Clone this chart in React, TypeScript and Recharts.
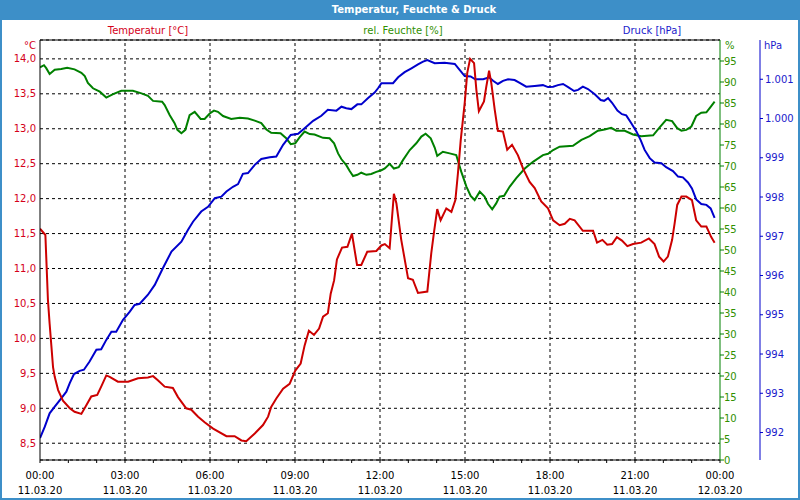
import React from "react";
import {
  LineChart,
  Line,
  XAxis,
  YAxis,
  CartesianGrid,
  ReferenceLine,
} from "recharts";

const temperature: [number, number][] = [
  [0.0, 11.57], [0.19, 11.48], [0.22, 11.17], [0.28, 10.55], [0.34, 10.21],
  [0.4, 9.9], [0.46, 9.59], [0.52, 9.45], [0.64, 9.26], [0.81, 9.11],
  [1.05, 9.0], [1.22, 8.95], [1.46, 8.92], [1.63, 9.04], [1.81, 9.17],
  [2.02, 9.19], [2.16, 9.31], [2.34, 9.47], [2.46, 9.45], [2.75, 9.38],
  [3.11, 9.38], [3.46, 9.43], [3.81, 9.44], [3.99, 9.46], [4.16, 9.4],
  [4.4, 9.31], [4.69, 9.29], [4.87, 9.16], [5.16, 9.0], [5.34, 8.98],
  [5.58, 8.88], [5.81, 8.8], [6.11, 8.71], [6.58, 8.6], [6.87, 8.6],
  [7.11, 8.54], [7.28, 8.53], [7.58, 8.64], [7.87, 8.76], [8.05, 8.88],
  [8.16, 9.02], [8.34, 9.14], [8.58, 9.28], [8.81, 9.35], [9.01, 9.54],
  [9.2, 9.64], [9.34, 9.9], [9.49, 10.11], [9.67, 10.05], [9.85, 10.14],
  [9.99, 10.31], [10.16, 10.36], [10.26, 10.64], [10.38, 10.83], [10.48, 11.13],
  [10.66, 11.3], [10.85, 11.31], [11.01, 11.5], [11.19, 11.05], [11.34, 11.05],
  [11.55, 11.24], [11.87, 11.25], [12.05, 11.33], [12.17, 11.35], [12.34, 11.29],
  [12.49, 12.07], [12.58, 11.93], [12.75, 11.41], [12.99, 10.86], [13.16, 10.84],
  [13.34, 10.65], [13.67, 10.67], [13.81, 11.22], [13.91, 11.53], [14.02, 11.85],
  [14.14, 11.69], [14.34, 11.86], [14.52, 11.81], [14.66, 11.98], [14.75, 12.36],
  [14.85, 12.84], [14.99, 13.37], [15.08, 13.8], [15.18, 14.0], [15.32, 13.94],
  [15.4, 13.56], [15.49, 13.25], [15.67, 13.39], [15.75, 13.6], [15.85, 13.83],
  [15.93, 13.65], [16.05, 13.27], [16.16, 12.97], [16.34, 12.96], [16.49, 12.7],
  [16.66, 12.77], [16.87, 12.62], [17.05, 12.43], [17.28, 12.24], [17.46, 12.15],
  [17.69, 11.96], [17.93, 11.86], [18.11, 11.69], [18.34, 11.62], [18.52, 11.64],
  [18.7, 11.71], [18.87, 11.69], [19.16, 11.54], [19.52, 11.54], [19.66, 11.37],
  [19.85, 11.41], [20.02, 11.34], [20.19, 11.35], [20.36, 11.45], [20.54, 11.4],
  [20.73, 11.32], [20.93, 11.35], [21.22, 11.37], [21.49, 11.43], [21.69, 11.35],
  [21.85, 11.17], [22.01, 11.1], [22.16, 11.17], [22.31, 11.41], [22.4, 11.65],
  [22.49, 11.91], [22.64, 12.03], [22.81, 12.03], [23.01, 11.98], [23.16, 11.69],
  [23.34, 11.6], [23.52, 11.6], [23.69, 11.45], [23.81, 11.37],
];

const humidity: [number, number][] = [
  [0.0, 93.5], [0.14, 94.0], [0.22, 93.3], [0.34, 91.9], [0.52, 92.9],
  [0.75, 93.1], [0.96, 93.4], [1.22, 93.0], [1.46, 92.2], [1.58, 91.4],
  [1.69, 89.8], [1.87, 88.5], [2.11, 87.7], [2.34, 86.3], [2.58, 87.1],
  [2.87, 87.9], [3.28, 87.9], [3.58, 87.3], [3.81, 86.7], [3.99, 85.5],
  [4.31, 85.3], [4.4, 84.5], [4.58, 82.1], [4.75, 80.2], [4.85, 78.6],
  [4.99, 77.8], [5.13, 78.6], [5.28, 82.1], [5.46, 82.9], [5.67, 81.2],
  [5.81, 81.2], [5.99, 82.5], [6.14, 83.2], [6.28, 82.9], [6.46, 81.9],
  [6.75, 81.2], [7.05, 81.5], [7.34, 81.3], [7.58, 80.8], [7.81, 80.2],
  [7.99, 78.7], [8.16, 77.9], [8.49, 77.8], [8.69, 76.6], [8.85, 75.2],
  [9.01, 75.4], [9.16, 76.8], [9.34, 78.2], [9.52, 77.6], [9.69, 77.5],
  [9.99, 76.7], [10.22, 76.6], [10.38, 75.4], [10.52, 73.0], [10.64, 71.6],
  [10.81, 70.2], [10.93, 68.8], [11.05, 67.6], [11.2, 67.9], [11.34, 68.4],
  [11.52, 67.9], [11.69, 68.1], [11.87, 68.6], [12.05, 69.0], [12.17, 69.4],
  [12.34, 70.5], [12.49, 69.4], [12.66, 69.7], [12.81, 71.4], [13.05, 73.8],
  [13.28, 75.4], [13.46, 77.0], [13.61, 77.7], [13.79, 76.6], [13.93, 74.4],
  [14.02, 72.4], [14.22, 73.4], [14.46, 73.0], [14.69, 72.6], [14.87, 68.6],
  [15.05, 65.1], [15.2, 62.9], [15.34, 61.9], [15.52, 63.9], [15.69, 62.7],
  [15.81, 61.0], [15.96, 59.7], [16.1, 61.1], [16.22, 62.7], [16.38, 62.9],
  [16.58, 65.1], [16.81, 67.1], [17.11, 69.4], [17.4, 71.0], [17.75, 72.6],
  [17.93, 72.9], [18.11, 73.8], [18.34, 74.6], [18.81, 74.8], [19.11, 76.2],
  [19.4, 77.1], [19.69, 78.4], [19.93, 78.7], [20.16, 79.1], [20.34, 78.4],
  [20.64, 78.4], [20.93, 77.5], [21.22, 77.1], [21.64, 77.3], [21.87, 79.2],
  [22.1, 81.0], [22.31, 80.7], [22.49, 79.0], [22.64, 78.4], [22.81, 78.6],
  [22.99, 79.4], [23.16, 81.9], [23.34, 82.7], [23.52, 82.8], [23.67, 84.1],
  [23.81, 85.3],
];

const pressure: [number, number][] = [
  [0.0, 991.86], [0.17, 992.15], [0.34, 992.49], [0.52, 992.66], [0.75, 992.87],
  [0.93, 993.04], [1.05, 993.26], [1.2, 993.49], [1.4, 993.57], [1.55, 993.6],
  [1.75, 993.81], [1.99, 994.11], [2.16, 994.12], [2.34, 994.36], [2.52, 994.57],
  [2.69, 994.57], [2.93, 994.87], [3.17, 995.08], [3.34, 995.25], [3.52, 995.28],
  [3.81, 995.51], [4.05, 995.76], [4.34, 996.19], [4.64, 996.61], [4.99, 996.86],
  [5.22, 997.16], [5.4, 997.37], [5.69, 997.63], [5.93, 997.75], [6.17, 997.97],
  [6.4, 998.01], [6.58, 998.14], [6.81, 998.26], [6.99, 998.33], [7.16, 998.59],
  [7.34, 998.61], [7.58, 998.82], [7.81, 998.97], [8.11, 999.01], [8.34, 999.03],
  [8.58, 999.33], [8.85, 999.58], [9.11, 999.61], [9.34, 999.75], [9.64, 999.94],
  [9.93, 1000.07], [10.16, 1000.22], [10.46, 1000.2], [10.64, 1000.3], [10.81, 1000.26],
  [10.99, 1000.24], [11.2, 1000.36], [11.34, 1000.36], [11.58, 1000.52], [11.81, 1000.66],
  [11.93, 1000.77], [12.05, 1000.9], [12.46, 1000.9], [12.64, 1001.05], [12.87, 1001.18],
  [13.11, 1001.28], [13.34, 1001.38], [13.52, 1001.45], [13.67, 1001.49], [13.93, 1001.41],
  [14.28, 1001.42], [14.64, 1001.39], [14.81, 1001.24], [14.99, 1001.08], [15.2, 1001.07],
  [15.36, 1001.0], [15.64, 1001.0], [15.85, 1001.05], [15.99, 1000.96], [16.16, 1000.88],
  [16.34, 1000.96], [16.52, 1001.0], [16.75, 1000.98], [16.93, 1000.91], [17.16, 1000.81],
  [17.46, 1000.83], [17.75, 1000.85], [17.93, 1000.8], [18.11, 1000.81], [18.28, 1000.85],
  [18.46, 1000.88], [18.64, 1000.8], [18.85, 1000.7], [18.99, 1000.73], [19.16, 1000.81],
  [19.34, 1000.75], [19.58, 1000.62], [19.79, 1000.47], [19.91, 1000.45], [20.05, 1000.52],
  [20.19, 1000.4], [20.38, 1000.2], [20.54, 1000.11], [20.69, 1000.08], [20.87, 999.88],
  [21.05, 999.67], [21.2, 999.45], [21.34, 999.2], [21.52, 998.99], [21.69, 998.88],
  [21.93, 998.86], [22.1, 998.76], [22.34, 998.66], [22.52, 998.52], [22.69, 998.5],
  [22.87, 998.37], [23.01, 998.22], [23.16, 997.94], [23.34, 997.82], [23.52, 997.8],
  [23.67, 997.71], [23.81, 997.47],
];

const hourTicks = [
  0, 1, 2, 3, 4, 5, 6, 7, 8, 9, 10, 11, 12, 13, 14, 15, 16, 17, 18, 19, 20,
  21, 22, 23, 24,
];
const gridHours = [3, 6, 9, 12, 15, 18, 21];
const tempTicks = [8.5, 9, 9.5, 10, 10.5, 11, 11.5, 12, 12.5, 13, 13.5, 14];
const humidityTicks = [
  0, 5, 10, 15, 20, 25, 30, 35, 40, 45, 50, 55, 60, 65, 70, 75, 80, 85, 90, 95,
];
const pressureTicks = [992, 993, 994, 995, 996, 997, 998, 999, 1000, 1001];

const TEMP_DOMAIN: [number, number] = [8.26, 14.27];
const FRAME = "#3d8fc8";
const FONT = "Tahoma, 'DejaVu Sans', sans-serif";

const toRows = (s: [number, number][]) => s.map(([t, v]) => ({ t, v }));

const fmtTemp = (v: number) => v.toFixed(1).replace(".", ",");
const fmtPressure = (v: number) =>
  v >= 1000 ? "1." + String(v - 1000).padStart(3, "0") : String(v);

function TimeTick({ x, y, payload }: any) {
  const h = payload.value as number;
  if (h % 3 !== 0) return <g />;
  const time = String(h % 24).padStart(2, "0") + ":00";
  const date = h === 24 ? "12.03.20" : "11.03.20";
  return (
    <g fontFamily={FONT} fontSize={10} fill="#000">
      <text x={x} y={y + 14} textAnchor="middle">
        {time}
      </text>
      <text x={x} y={y + 29} textAnchor="middle">
        {date}
      </text>
    </g>
  );
}

const label = (
  text: string,
  left: number,
  top: number,
  color: string,
  align: "left" | "center" | "right" = "center"
) => (
  <div
    style={{
      position: "absolute",
      left,
      top,
      color,
      fontFamily: FONT,
      fontSize: 10,
      lineHeight: "12px",
      whiteSpace: "nowrap",
      transform:
        align === "center"
          ? "translate(-50%, -50%)"
          : align === "right"
          ? "translate(-100%, -50%)"
          : "translate(0, -50%)",
    }}
  >
    {text}
  </div>
);

export default function App() {
  return (
    <div
      style={{
        position: "absolute",
        left: 0,
        top: 0,
        width: 800,
        height: 500,
        background: "#fff",
        overflow: "hidden",
      }}
    >
      <LineChart
        width={800}
        height={500}
        margin={{ top: 40, right: 0, bottom: 0, left: 0 }}
      >
        <CartesianGrid
          yAxisId="temp"
          vertical={false}
          stroke="#000"
          strokeDasharray="3 3"
        />
        <XAxis
          dataKey="t"
          type="number"
          domain={[0, 24]}
          ticks={hourTicks}
          interval={0}
          height={40}
          stroke="#000"
          tickSize={3}
          tickMargin={2}
          tick={<TimeTick />}
          allowDataOverflow
        />
        <YAxis
          yAxisId="temp"
          orientation="left"
          width={40}
          domain={TEMP_DOMAIN}
          ticks={tempTicks}
          interval={0}
          allowDataOverflow
          stroke="#000"
          tickLine={false}
          tickSize={4}
          tickMargin={0}
          tickFormatter={fmtTemp}
          tick={{ fill: "#d4001a", fontSize: 10, fontFamily: FONT }}
        />
        <YAxis
          yAxisId="hum"
          orientation="right"
          width={40}
          domain={[0, 100]}
          ticks={humidityTicks}
          interval={0}
          stroke="#008000"
          tickSize={4}
          tickMargin={0}
          tick={{ fill: "#2f8f00", fontSize: 10, fontFamily: FONT }}
        />
        <YAxis
          yAxisId="press"
          orientation="right"
          width={40}
          domain={[991.3, 1002]}
          ticks={pressureTicks}
          interval={0}
          allowDataOverflow
          stroke="#0000cc"
          tickSize={3}
          tickMargin={2}
          tickFormatter={fmtPressure}
          tick={{ fill: "#1a1acc", fontSize: 10, fontFamily: FONT }}
        />
        {gridHours.map((h) => (
          <ReferenceLine
            key={h}
            x={h}
            yAxisId="temp"
            stroke="#000"
            strokeDasharray="3 3"
          />
        ))}
        <ReferenceLine y={TEMP_DOMAIN[1]} yAxisId="temp" stroke="#000" />
        <Line
          yAxisId="hum"
          data={toRows(humidity)}
          dataKey="v"
          type="linear"
          stroke="#008000"
          strokeWidth={2}
          dot={false}
          activeDot={false}
          isAnimationActive={false}
        />
        <Line
          yAxisId="press"
          data={toRows(pressure)}
          dataKey="v"
          type="linear"
          stroke="#0000cc"
          strokeWidth={2}
          dot={false}
          activeDot={false}
          isAnimationActive={false}
        />
        <Line
          yAxisId="temp"
          data={toRows(temperature)}
          dataKey="v"
          type="linear"
          stroke="#cc0000"
          strokeWidth={2}
          dot={false}
          activeDot={false}
          isAnimationActive={false}
        />
      </LineChart>

      {/* Titelleiste und Rahmen */}
      <div
        style={{
          position: "absolute",
          left: 0,
          top: 0,
          width: 772,
          height: 20,
          paddingLeft: 28,
          background: FRAME,
          color: "#fff",
          fontFamily: FONT,
          fontWeight: "bold",
          fontSize: 10,
          lineHeight: "20px",
          textAlign: "center",
        }}
      >
        Temperatur, Feuchte &amp; Druck
      </div>
      <div
        style={{
          position: "absolute",
          left: 0,
          top: 20,
          width: 796,
          height: 478,
          borderLeft: `2px solid ${FRAME}`,
          borderRight: `2px solid ${FRAME}`,
          borderBottom: `2px solid ${FRAME}`,
          pointerEvents: "none",
        }}
      />

      {label("Temperatur [°C]", 148, 31, "#d4001a")}
      {label("rel. Feuchte [%]", 403, 31, "#2f8f00")}
      {label("Druck [hPa]", 652, 31, "#1a1acc")}
      {label("°C", 36, 46, "#d4001a", "right")}
      {label("%", 725, 46, "#2f8f00", "left")}
      {label("hPa", 764, 46, "#1a1acc", "left")}
    </div>
  );
}
